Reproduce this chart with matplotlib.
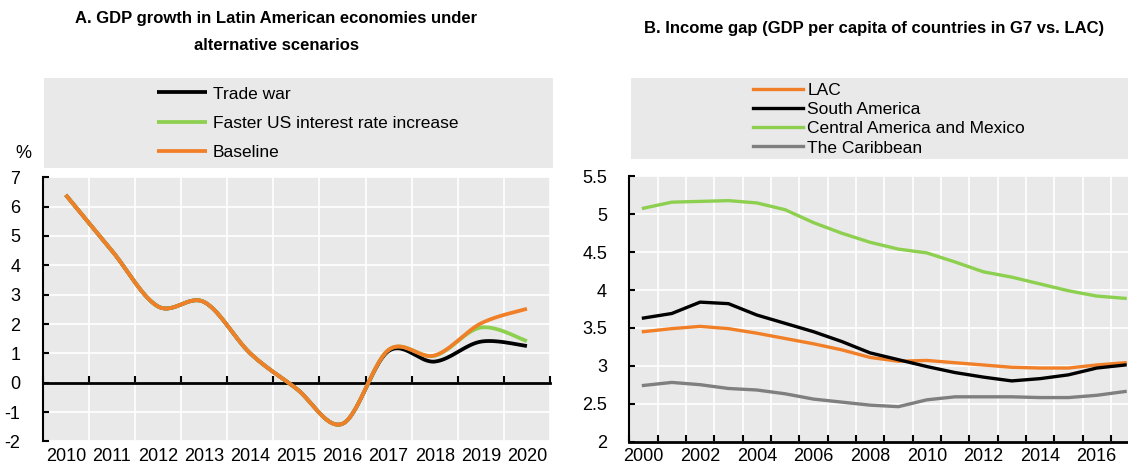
import numpy as np
import matplotlib.pyplot as plt

plt.rcParams['font.family'] = ['Liberation Sans', 'DejaVu Sans']
plt.rcParams['axes.unicode_minus'] = False

# Painel A: crescimento do PIB (%)
years_a = ['2010', '2011', '2012', '2013', '2014', '2015', '2016', '2017', '2018', '2019', '2020']
trade_war = [6.4, 4.5, 2.6, 2.75, 1.0, -0.2, -1.4, 1.08, 0.72, 1.4, 1.25]
faster_us = [6.4, 4.5, 2.6, 2.75, 1.0, -0.2, -1.4, 1.12, 0.92, 1.88, 1.42]
baseline = [6.4, 4.5, 2.6, 2.75, 1.0, -0.2, -1.4, 1.12, 0.93, 2.02, 2.52]

# Painel B: hiato de renda
years_b = list(range(2000, 2018))
lac = [3.45, 3.49, 3.52, 3.49, 3.43, 3.36, 3.29, 3.21, 3.11, 3.06, 3.07, 3.04, 3.01, 2.98, 2.97, 2.97, 3.01, 3.04]
south_america = [3.63, 3.69, 3.84, 3.82, 3.67, 3.56, 3.45, 3.32, 3.17, 3.08, 2.99, 2.91, 2.85, 2.80, 2.83, 2.88, 2.97, 3.01]
central_mexico = [5.08, 5.16, 5.17, 5.18, 5.15, 5.06, 4.89, 4.75, 4.63, 4.54, 4.49, 4.37, 4.24, 4.17, 4.08, 3.99, 3.92, 3.89]
caribbean = [2.74, 2.78, 2.75, 2.70, 2.68, 2.63, 2.56, 2.52, 2.48, 2.46, 2.55, 2.59, 2.59, 2.59, 2.58, 2.58, 2.61, 2.66]

ORANGE = '#F07F28'
GREEN = '#8DCF4F'
BLACK = '#000000'
GREY = '#7F7F7F'
BG = '#E9E9E9'
FS = 13      # eixos
FL = 12.5    # legendas


def smooth(y, n=30):
    # curva suavizada tipo Excel (Bezier / Catmull-Rom)
    y = np.asarray(y, float)
    x = np.arange(len(y), dtype=float)
    px = np.concatenate([[x[0]], x, [x[-1]]])
    py = np.concatenate([[y[0]], y, [y[-1]]])
    xs, ys = [], []
    t = np.linspace(0, 1, n)
    for i in range(1, len(px) - 2):
        p0, p1, p2, p3 = (np.array([px[j], py[j]]) for j in (i-1, i, i+1, i+2))
        c1 = p1 + (p2 - p0) / 6
        c2 = p2 - (p3 - p1) / 6
        pts = (((1-t)**3)[:, None]*p1 + (3*(1-t)**2*t)[:, None]*c1
               + (3*(1-t)*t**2)[:, None]*c2 + (t**3)[:, None]*p2)
        xs.append(pts[:, 0]); ys.append(pts[:, 1])
    return np.concatenate(xs), np.concatenate(ys)


W, H = 1128, 467
fig = plt.figure(figsize=(W/100, H/100), dpi=100)


def fx(p):
    return p / W


def fy(p):
    return 1 - p / H


def style_axes(ax):
    ax.set_facecolor(BG)
    for s in ['top', 'right']:
        ax.spines[s].set_visible(False)
    ax.spines['left'].set_linewidth(1.5)
    ax.spines['bottom'].set_linewidth(2)
    ax.tick_params(axis='y', direction='in', length=4, width=1.5, pad=16, labelsize=FS)
    ax.grid(True, which='major', axis='y', color='white', linewidth=1.2)
    ax.set_axisbelow(True)


def legend_box(x0, y0, x1, y1):
    lg = fig.add_axes([fx(x0), fy(y1), fx(x1 - x0), (y1 - y0) / H])
    lg.set_facecolor(BG)
    lg.set_xticks([]); lg.set_yticks([])
    for s in lg.spines.values():
        s.set_visible(False)
    return lg


# ---------- Painel A ----------
axA = fig.add_axes([fx(42.7), fy(441.4), fx(550 - 42.7), (441.4 - 177.3) / H])
style_axes(axA)
xa = np.arange(len(years_a))
for vals, col, lab in [(trade_war, BLACK, 'Trade war'), (faster_us, GREEN, 'Faster US interest rate increase'),
                       (baseline, ORANGE, 'Baseline')]:
    sx, sy = smooth(vals)
    axA.plot(sx, sy, color=col, linewidth=2.7, solid_capstyle='butt', label=lab, zorder=3)
axA.set_xlim(-0.5, len(years_a) - 0.5)
axA.set_ylim(-2, 7)
axA.set_yticks(range(-2, 8))
# eixo horizontal em zero, marcas entre as categorias
axA.spines['bottom'].set_position(('data', 0))
axA.set_xticks(np.arange(-0.5, len(years_a)))
axA.set_xticklabels([])
axA.tick_params(axis='x', direction='in', length=5, width=1.5)
axA.grid(True, which='major', axis='x', color='white', linewidth=1.2)
labA = axA.secondary_xaxis('bottom')
labA.set_xticks(xa)
labA.set_xticklabels(years_a)
labA.tick_params(length=0, pad=5, labelsize=FS)
labA.spines['bottom'].set_visible(False)
fig.text(fx(23), fy(154), '%', fontsize=FS, ha='center', va='center')

legA = legend_box(44, 77.7, 552.7, 167.7)
hA, lA = axA.get_legend_handles_labels()
legA.legend(hA, lA, loc='center left', bbox_to_anchor=(fx(157), fy(123)), bbox_transform=fig.transFigure,
            frameon=False, fontsize=FL, handlelength=2.9, handletextpad=0.3, labelspacing=0.8,
            borderpad=0, borderaxespad=0)

fig.text(fx(276), fy(19), 'A. GDP growth in Latin American economies under', fontsize=12, fontweight='bold',
         ha='center', va='center')
fig.text(fx(276), fy(46), 'alternative scenarios', fontsize=12, fontweight='bold', ha='center', va='center')

# ---------- Painel B ----------
axB = fig.add_axes([fx(629.3), fy(441.5), fx(18 * 28.33), (441.5 - 176.4) / H])
style_axes(axB)
xb = np.arange(len(years_b))
for vals, col, lab in [(lac, ORANGE, 'LAC'), (south_america, BLACK, 'South America'),
                       (central_mexico, GREEN, 'Central America and Mexico'), (caribbean, GREY, 'The Caribbean')]:
    axB.plot(xb, vals, color=col, linewidth=2.4, label=lab, zorder=3)
axB.set_xlim(-0.5, len(years_b) - 0.5)
axB.set_ylim(2, 5.5)
axB.set_yticks(np.arange(2, 5.51, 0.5))
axB.set_yticklabels(['2', '2.5', '3', '3.5', '4', '4.5', '5', '5.5'])
axB.set_xticks(xb[::2])
axB.set_xticklabels([str(y) for y in years_b[::2]])
axB.tick_params(axis='x', which='major', length=0, pad=5, labelsize=FS)
axB.set_xticks(np.arange(-0.5, len(years_b)), minor=True)
axB.tick_params(axis='x', which='minor', direction='in', length=5, width=1.5)
axB.grid(True, which='minor', axis='x', color='white', linewidth=1.2)

legB = legend_box(631, 77.7, 1140, 159.3)
hB, lB = axB.get_legend_handles_labels()
legB.legend(hB, lB, loc='center left', bbox_to_anchor=(fx(752.7), fy(119)), bbox_transform=fig.transFigure,
            frameon=False, fontsize=FL, handlelength=2.9, handletextpad=0.25, labelspacing=0.24,
            borderpad=0, borderaxespad=0)

fig.text(fx(874), fy(28), 'B. Income gap (GDP per capita of countries in G7 vs. LAC)', fontsize=12,
         fontweight='bold', ha='center', va='center')

fig.savefig('out.png', dpi=100)
